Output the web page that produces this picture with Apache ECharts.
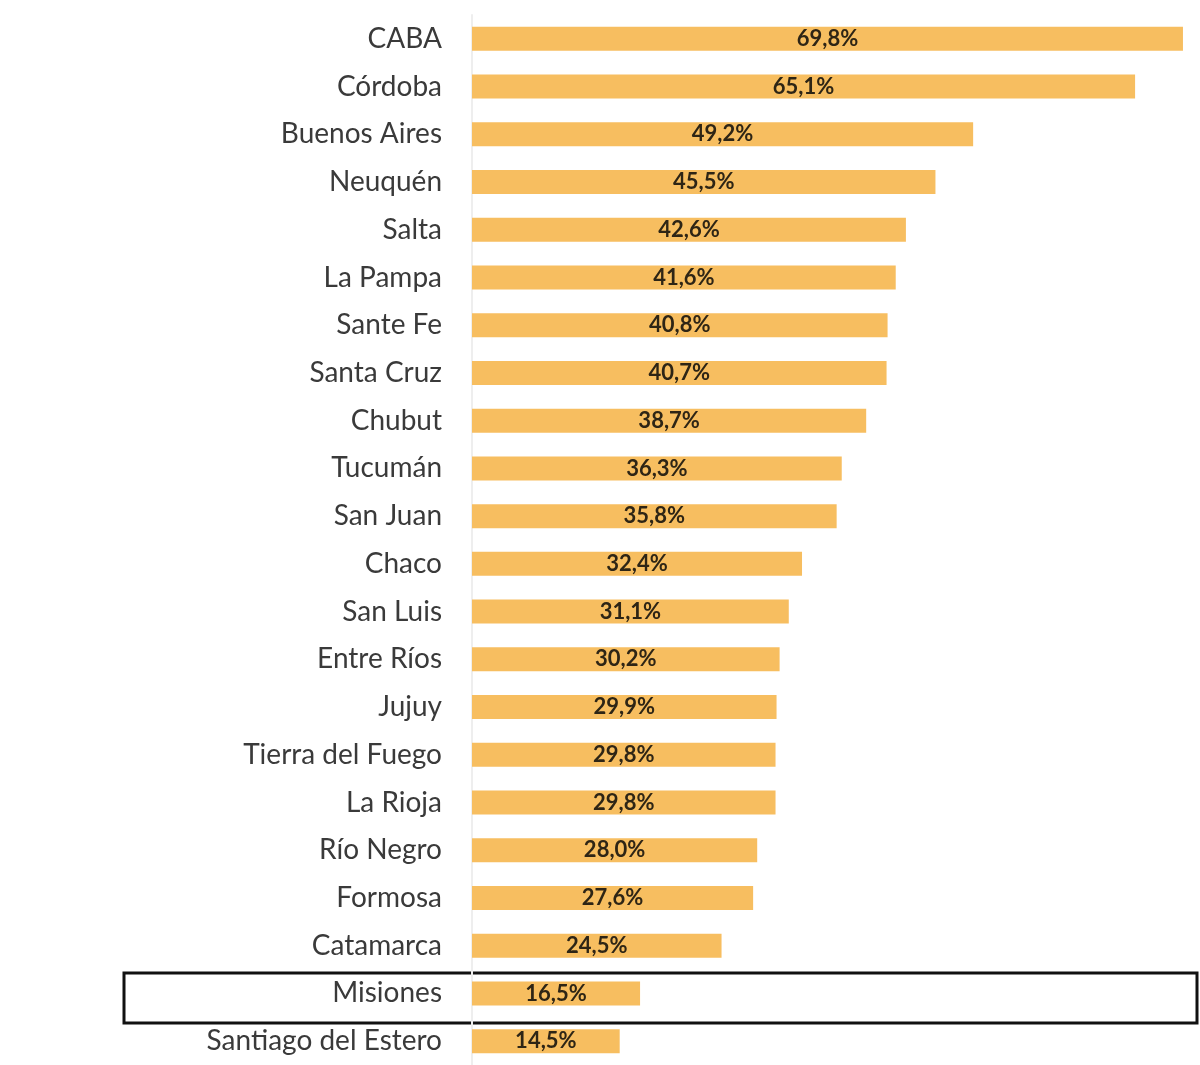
<!DOCTYPE html>
<html>
<head>
<meta charset="utf-8">
<script src="https://cdn.jsdelivr.net/npm/echarts@6/dist/echarts.min.js"></script>
<style>html,body{margin:0;padding:0;background:#fff}#chart{width:1200px;height:1065px}</style>
</head>
<body>
<div id="chart"></div>
<script>
var provinces = ["CABA", "Córdoba", "Buenos Aires", "Neuquén", "Salta", "La Pampa", "Sante Fe",
  "Santa Cruz", "Chubut", "Tucumán", "San Juan", "Chaco", "San Luis", "Entre Ríos", "Jujuy",
  "Tierra del Fuego", "La Rioja", "Río Negro", "Formosa", "Catamarca", "Misiones", "Santiago del Estero"];
var values = [69.8, 65.1, 49.2, 45.5, 42.6, 41.6, 40.8, 40.7, 38.7, 36.3, 35.8, 32.4, 31.1, 30.2,
  29.9, 29.8, 29.8, 28.0, 27.6, 24.5, 16.5, 14.5];
var highlighted = "Misiones";

var chart = echarts.init(document.getElementById("chart"));
var rowH = 1055 / provinces.length;
var hiIdx = provinces.indexOf(highlighted);

var option = {
  animation: false,
  grid: { left: 472, right: 15, top: 15, height: 1055 },
  xAxis: { type: "value", min: 0, max: 70, show: false },
  yAxis: {
    type: "category",
    data: provinces,
    inverse: true,
    axisTick: { show: false },
    axisLine: { show: true, lineStyle: { color: "#eeeeee", width: 2 } },
    axisLabel: { fontSize: 28, color: "#3a3a3a", margin: 30, fontFamily: "Lato, sans-serif" }
  },
  series: [{
    type: "bar",
    data: values,
    barWidth: 24,
    itemStyle: { color: "#F7BE60" },
    label: {
      show: true,
      position: "inside",
      fontSize: 22,
      fontWeight: "bold",
      color: "#2e2515",
      fontFamily: "Lato, sans-serif",
      formatter: function (p) { return p.value.toFixed(1).replace(".", ",") + "%"; }
    }
  }],
  graphic: [{
    type: "rect",
    shape: { x: 124, y: 15 + hiIdx * rowH - 1, width: 1073, height: 50 },
    style: { fill: "none", stroke: "#111", lineWidth: 3 }
  }]
};
chart.setOption(option);
window.addEventListener("resize", chart.resize);
</script>
</body>
</html>
